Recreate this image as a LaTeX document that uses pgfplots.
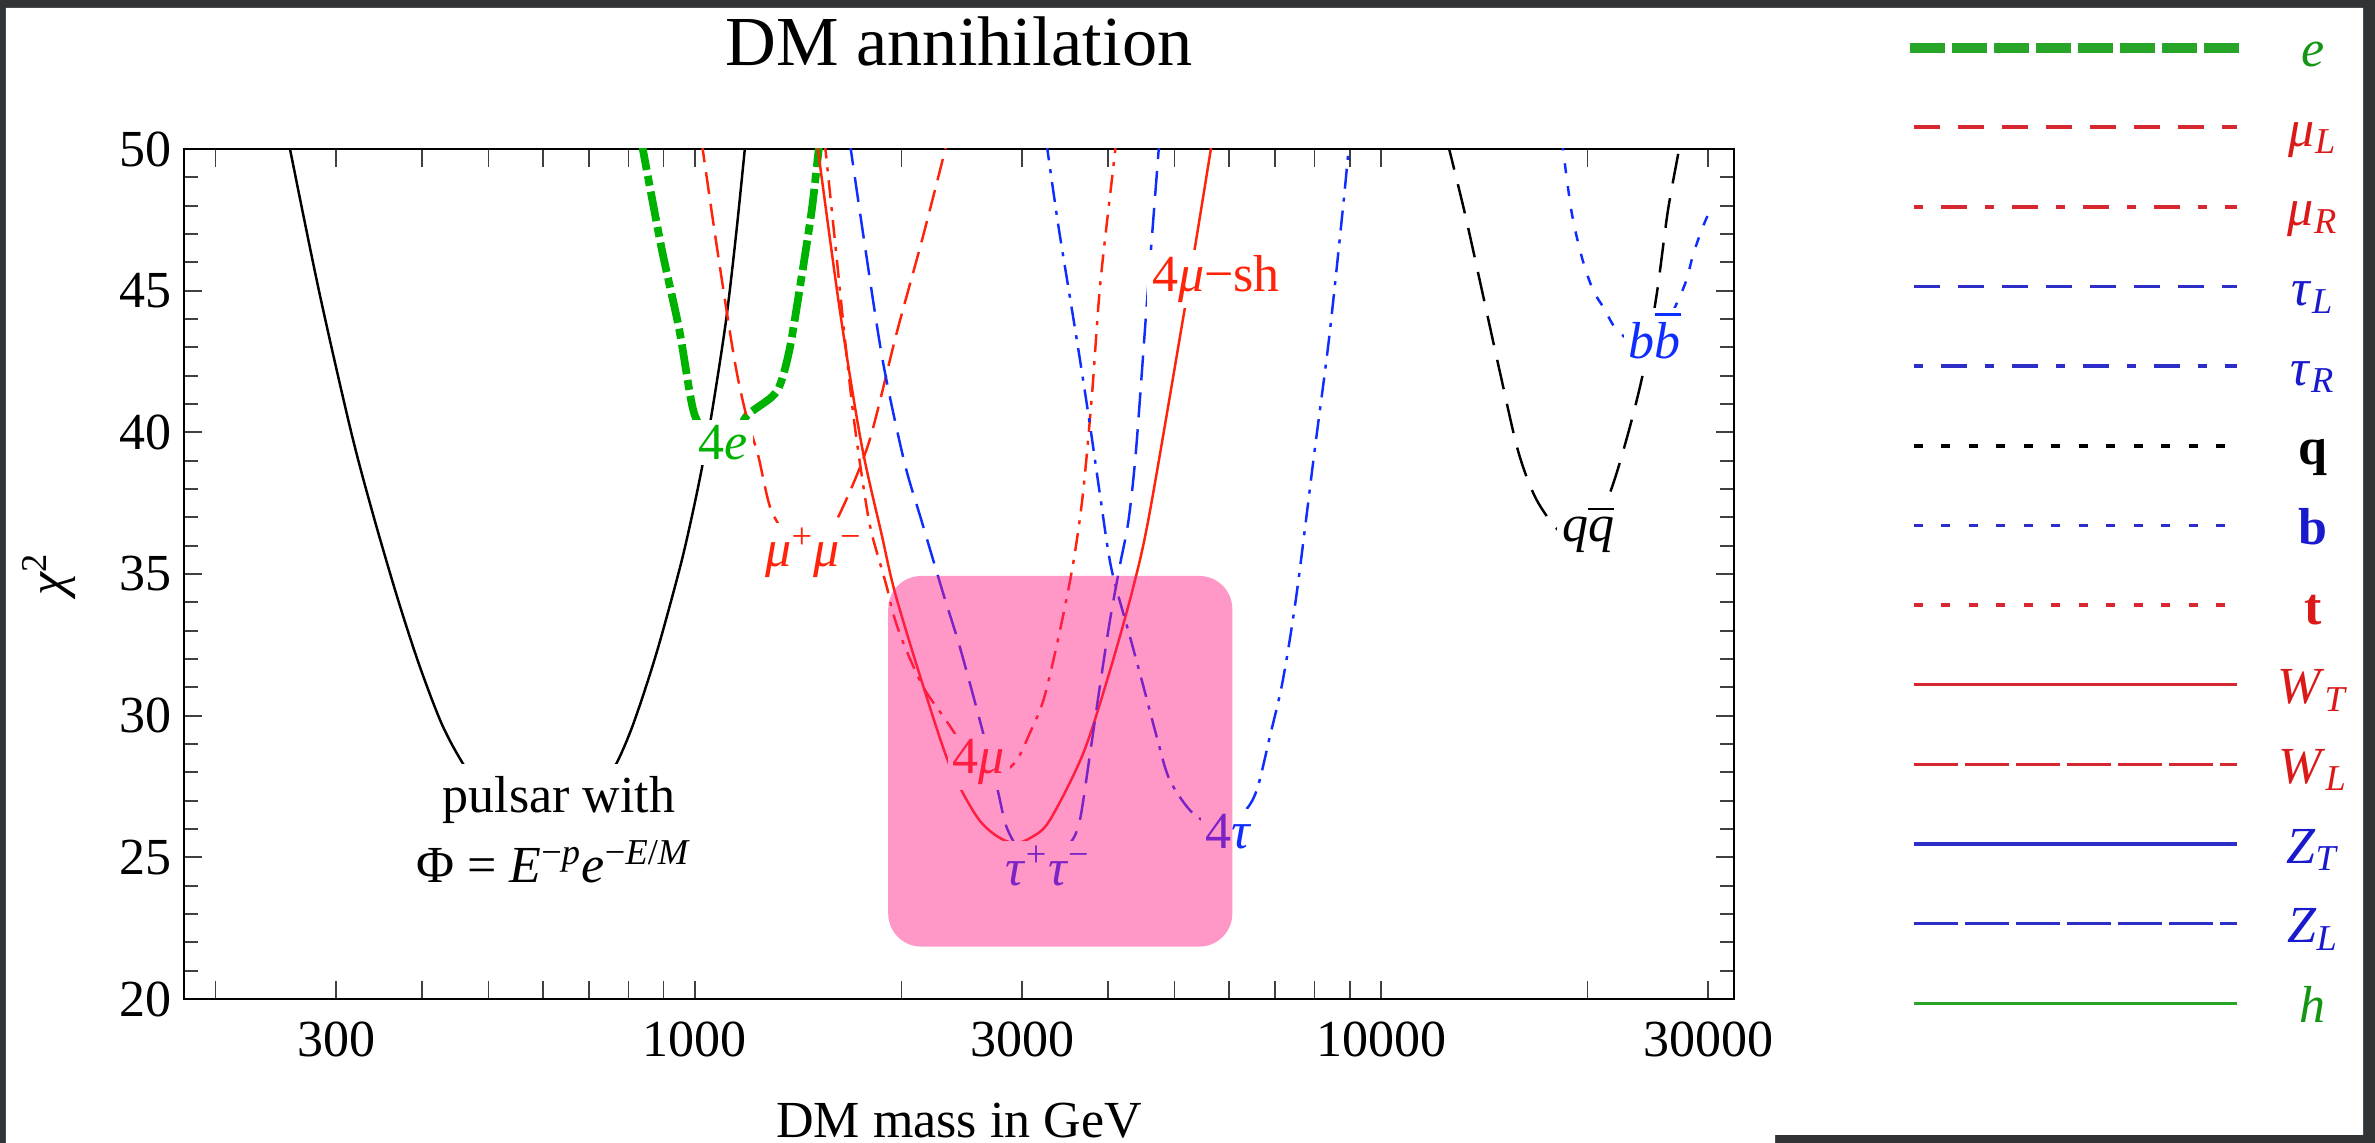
\documentclass[border=0pt]{standalone}
\usepackage{fontspec}
\setmainfont{Liberation Serif}
\usepackage{pgfplots}
\pgfplotsset{compat=1.18}
\definecolor{cred}{RGB}{255,35,10}
\definecolor{cblue}{RGB}{15,45,255}
\definecolor{cgreen}{RGB}{0,178,0}
\definecolor{cpink}{RGB}{255,25,131}
\definecolor{frame}{RGB}{48,52,55}
\definecolor{lred}{RGB}{215,40,50}
\definecolor{lblue}{RGB}{45,45,200}
\definecolor{lgreen}{RGB}{40,165,40}
\definecolor{tred}{RGB}{220,25,25}
\definecolor{tblue}{RGB}{25,25,205}
\definecolor{tgreen}{RGB}{20,150,20}
\newcommand\lab{\fontsize{14.8}{17}\selectfont}
\newcommand\obar[1]{\leavevmode\vbox{\hrule height 0.6pt\kern 2pt\hbox{#1}}}
\begin{document}
\begin{tikzpicture}[x=1cm,y=1cm]
\fill[frame] (0,0) rectangle (23.75,11.43);
\fill[white] (0.06,0) -- (17.75,0) -- (17.75,0.08) -- (23.63,0.08) -- (23.63,11.35) -- (0.06,11.35) -- cycle;
\node[anchor=base, font=\fontsize{20}{24}\selectfont] at (9.59,10.77) {DM annihilation};
\begin{axis}[
  at={(1.84cm,1.44cm)}, anchor=south west, scale only axis,
  width=15.50cm, height=8.50cm,
  xmode=log, xmin=180, xmax=32700, ymin=20, ymax=50,
  xtick={200,300,400,500,600,700,800,900,1000,2000,3000,4000,5000,6000,7000,8000,9000,10000,20000,30000},
  xticklabels={,300,,,,,,,1000,,3000,,,,,,,10000,,30000},
  ytick={20,25,30,35,40,45,50},
  yticklabels={20,25,30,35,40,45,50},
  minor y tick num=4,
  major tick length=0.18cm, minor tick length=0.14cm,
  tick style={line width=0.5pt, black!75},
  axis line style={line width=0.7pt},
  tick label style={font=\lab},
  xticklabel style={anchor=base, yshift=-0.58cm},
  ylabel={\textit{χ}\textsuperscript{2}},
  every axis y label/.style={at={(axis description cs:-0.087,0.5)}, rotate=90, anchor=center, font=\lab},
  xlabel={DM mass in GeV},
  every axis x label/.style={at={(axis description cs:0.5,-0.1625)}, anchor=base, inner sep=0pt, font=\lab},
  every axis plot/.append style={line width=0.7pt},
]
% pulsar
\addplot[black, smooth] coordinates {(255.9,50.2) (283.1,45) (315.5,40) (340.4,37) (369.3,34.08) (397.2,31.73) (429.5,29.6) (467.2,28.02) (524.8,26.47) (594.3,25.9) (676.1,26.5) (756.2,28.02) (803.5,29.38) (850.4,31.1) (893.3,32.8) (959.4,35.6) (1013.2,38.2) (1056.8,40.6) (1109.2,43.9) (1148.2,47.0) (1184.4,50.2)};
% 4e
\addplot[cgreen, line width=2.2pt, smooth, dash pattern=on 0.30cm off 0.06cm on 0.10cm off 0.06cm] coordinates {(835,50.3) (893.3,46.54) (948.4,43.64) (995.4,40.74) (1047.1,39.9) (1109.2,39.7) (1161.4,40.1) (1191.2,40.6) (1294.2,41.25) (1333.5,41.74) (1375.6,43.0) (1425.6,45.27) (1479.1,47.8) (1513.6,49.9) (1520.5,50.3)};
% mu+mu-
\addplot[cred, smooth, dash pattern=on 0.22cm off 0.10cm] coordinates {(1022,50.3) (1076.4,46.54) (1142.9,42.5) (1191.2,40.48) (1235.9,39.2) (1288.2,37.33) (1364.6,36.3) (1445.4,35.8) (1531.1,36.2) (1618.1,37.02) (1790.5,39.6) (1967.9,43.5) (2142.9,46.79) (2317.4,50) (2330,50.3)};
% 4mu-sh
\addplot[cred, smooth] coordinates {(1505,50.3) (1627.1,44.27) (1748.3,39.6) (1870.9,36.4) (1959,34.3) (2152.8,31.02) (2355.0,28.2) (2576.2,26.43) (2754,25.75) (2924.2,25.5) (3090,25.7) (3288.5,26.3) (3681.3,28.67) (4027.2,31.6) (4355.1,34.55) (4603,37.2) (5188.0,44.52) (5345.6,46.41) (5649.4,50) (5670,50.3)};
% 4mu
\addplot[cred, smooth, dash pattern=on 0.18cm off 0.09cm on 0.04cm off 0.09cm] coordinates {(1545,50.3) (1606.9,46.3) (1655.8,43.2) (1706.0,40.4) (1770.1,37.7) (1811.3,36.4) (1901.1,34.6) (1945.4,33.6) (2013.7,32.55) (2152.8,31.0) (2338.8,29.73) (2512,28.6) (2692,27.9) (2851,28.1) (2958,28.5) (3076,29.38) (3221,30.55) (3381,32.67) (3548,35.19) (3673,37.72) (3790,41.3) (3899,45.27) (4093,49.85) (4100,50.3)};
% tau+tau-
\addplot[cblue, smooth, dash pattern=on 0.25cm off 0.12cm] coordinates {(1680,50.3) (1770.1,46.54) (1879.3,42.5) (2018.4,38.97) (2138.0,36.9) (2301.4,34.3) (2432.2,32.43) (2600.2,29.85) (2754.2,27.5) (2844.5,26.08) (2985,25.2) (3162,25.0) (3350,25.15) (3523.7,25.5) (3639.1,26.3) (3767.0,28.67) (3890.5,31.0) (4027.2,33.38) (4168.7,35.38) (4285.5,36.9) (4395.4,39.4) (4560.3,44.65) (4731.5,49.69) (4753,50.3)};
% 4tau
\addplot[cblue, smooth, dash pattern=on 0.20cm off 0.09cm on 0.04cm off 0.09cm] coordinates {(3250,50.3) (3380.7,47.4) (3507.5,45.0) (3630.8,42.75) (3767.0,40.23) (3899.4,37.7) (4045.7,35.19) (4305.3,32.79) (4508.2,31.0) (4709.8,29.26) (4920.4,27.73) (5321.1,26.55) (5821,26.1) (6310,26.6) (6591.7,27.38) (6886.5,29.26) (7194.5,31.26) (7534.1,34.3) (7998.3,39.3) (8394.6,43.26) (8790.2,47.8) (8953.6,49.8) (8995,50.3)};
% q qbar
\addplot[black, smooth, dash pattern=on 0.30cm off 0.15cm] coordinates {(12480,50.3) (13229,47.8) (14028,45.02) (14912,42.1) (15838,39.35) (16788,37.7) (18072,36.58) (19498,36.1) (21330,37.59) (22699,39.6) (24099,42.1) (25235,44.9) (26182,47.8) (27164,49.94) (27290,50.3)};
% b bbar
\addplot[cblue, smooth, dash pattern=on 0.10cm off 0.13cm] coordinates {(18350,50.3) (18951,47.8) (19634,46.16) (20370,45.02) (21111,44.4) (22029,43.64) (23714,43.1) (25704,43.6) (27655,45.15) (28510,46.28) (29362,47.17) (29992,47.7)};
% labels
\node[anchor=base, fill=white, inner sep=1.5pt, text=cgreen, font=\lab] at (axis cs:1098.5,39.04) {4\textit{e}};
\node[anchor=base, fill=white, inner sep=1.5pt, text=cred, font=\lab] at (axis cs:1491,35.25) {\textit{μ}\textsuperscript{+}\textit{μ}\textsuperscript{−}};
\node[anchor=base, fill=white, inner sep=1.5pt, text=cred, font=\lab] at (axis cs:5748,44.96) {4\textit{μ}−sh};
\node[anchor=base, fill=white, inner sep=1.5pt, text=cred, font=\lab] at (axis cs:2594,27.97) {4\textit{μ}};
\node[anchor=base, fill=white, inner sep=1.5pt, text=cblue, font=\lab] at (axis cs:3271,24.02) {\textit{τ}\textsuperscript{+}\textit{τ}\textsuperscript{−}};
\node[anchor=base, fill=white, inner sep=1.5pt, text=cblue, font=\lab] at (axis cs:6004,25.32) {4\textit{τ}};
\node[anchor=base, fill=white, inner sep=1.5pt, text=black, font=\lab] at (axis cs:20030,36.14) {\textit{q}\obar{\textit{q}}};
\node[anchor=base, fill=white, inner sep=1.5pt, text=cblue, font=\lab] at (axis cs:25080,42.6) {\textit{b}\obar{\textit{b}}};
\node[anchor=base, fill=white, inner xsep=2pt, inner ysep=3.5pt, font=\lab] at (axis cs:633.5,26.58) {pulsar with};
\node[anchor=base, fill=white, inner xsep=2pt, inner ysep=3.5pt, font=\lab] at (axis cs:623,24.11) {Φ = \textit{E}\textsuperscript{−\textit{p}}\textit{e}\textsuperscript{−\textit{E}/\textit{M}}};
% pink highlight
\fill[cpink, opacity=0.45, rounded corners=0.33cm] (axis cs:1913,21.85) rectangle (axis cs:6071,34.93);
\end{axis}
% legend panel
\begin{axis}[
  at={(19.10cm,1.3969cm)}, anchor=south west, scale only axis,
  width=3.30cm, height=9.557cm,
  xmin=0, xmax=1, ymin=0, ymax=12,
  hide axis, clip=false,
  every axis plot/.append style={line width=1pt},
]
\addplot[lgreen, line width=0.1cm, dash pattern=on 0.35cm off 0.07cm] coordinates {(0,12) (1,12)};
\addplot[lred, dash pattern=on 0.257cm off 0.183cm] coordinates {(0.012,11) (0.99,11)};
\addplot[lred, dash pattern=on 0.09cm off 0.18cm on 0.26cm off 0.18cm] coordinates {(0.012,10) (0.99,10)};
\addplot[lblue, dash pattern=on 0.257cm off 0.183cm] coordinates {(0.012,9) (0.99,9)};
\addplot[lblue, dash pattern=on 0.09cm off 0.18cm on 0.26cm off 0.18cm] coordinates {(0.012,8) (0.99,8)};
\addplot[black, dash pattern=on 0.09cm off 0.185cm] coordinates {(0.012,7) (0.96,7)};
\addplot[lblue, dash pattern=on 0.09cm off 0.185cm] coordinates {(0.012,6) (0.96,6)};
\addplot[lred, dash pattern=on 0.09cm off 0.185cm] coordinates {(0.012,5) (0.96,5)};
\addplot[lred] coordinates {(0.012,4) (0.99,4)};
\addplot[lred, dash pattern=on 0.44cm off 0.07cm] coordinates {(0.012,3) (0.99,3)};
\addplot[lblue] coordinates {(0.012,2) (0.99,2)};
\addplot[lblue, dash pattern=on 0.44cm off 0.07cm] coordinates {(0.012,1) (0.99,1)};
\addplot[lgreen] coordinates {(0.012,0) (0.99,0)};
\begin{scope}[every node/.style={anchor=base, yshift=-0.19cm, font=\lab}]
\node[text=tgreen] at (axis cs:1.221,12) {\textit{e}};
\node[text=tred] at (axis cs:1.221,11) {\textit{μ}\textsubscript{\textit{L}}};
\node[text=tred] at (axis cs:1.221,10) {\textit{μ}\textsubscript{\textit{R}}};
\node[text=tblue] at (axis cs:1.221,9) {\textit{τ}\textsubscript{\textit{L}}};
\node[text=tblue] at (axis cs:1.221,8) {\textit{τ}\textsubscript{\textit{R}}};
\node[text=black] at (axis cs:1.221,7) {\textbf{q}};
\node[text=tblue] at (axis cs:1.221,6) {\textbf{b}};
\node[text=tred] at (axis cs:1.221,5) {\textbf{t}};
\node[text=tred] at (axis cs:1.221,4) {\textit{W}\textsubscript{\textit{T}}};
\node[text=tred] at (axis cs:1.221,3) {\textit{W}\textsubscript{\textit{L}}};
\node[text=tblue] at (axis cs:1.221,2) {\textit{Z}\textsubscript{\textit{T}}};
\node[text=tblue] at (axis cs:1.221,1) {\textit{Z}\textsubscript{\textit{L}}};
\node[text=tgreen] at (axis cs:1.221,0) {\textit{h}};
\end{scope}
\end{axis}
\pgfresetboundingbox
\path[use as bounding box] (0,0) rectangle (23.75,11.43);
\end{tikzpicture}
\end{document}
